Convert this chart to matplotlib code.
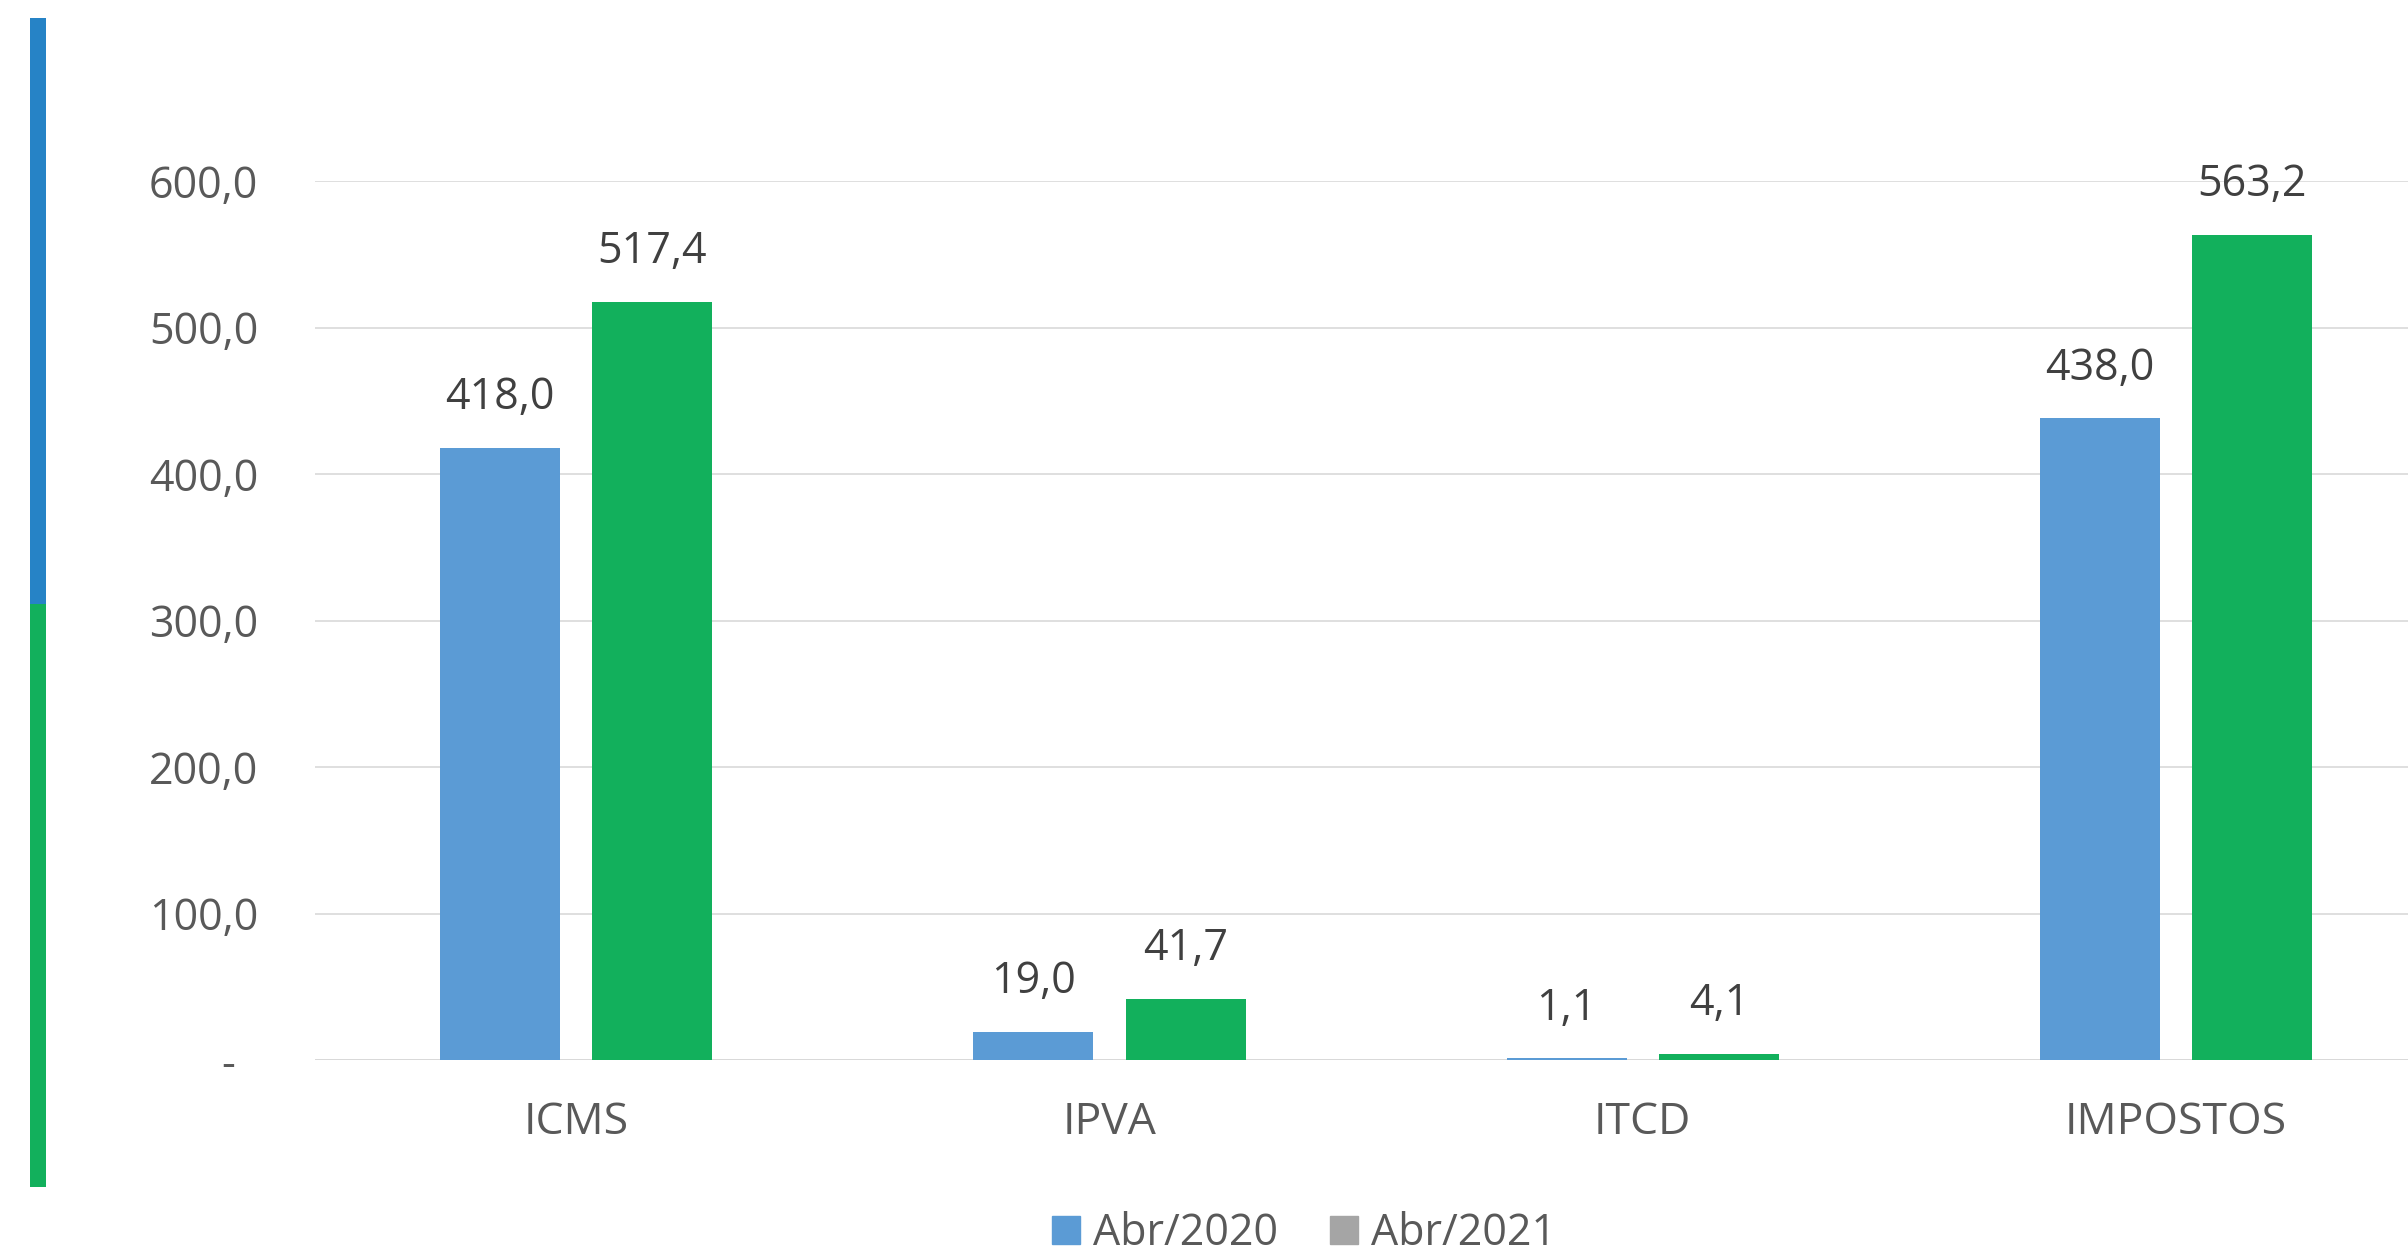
import numpy as np
import matplotlib.pyplot as plt
from matplotlib.patches import Rectangle, Patch

# values (R$ milhoes)
categorias = ["ICMS", "IPVA", "ITCD", "IMPOSTOS"]
abr_2020 = [418.0, 19.0, 1.1, 438.0]
abr_2021 = [517.4, 41.7, 4.1, 563.2]
legenda = ["Abr/2020", "Abr/2021"]
y_ticks = [0, 100, 200, 300, 400, 500, 600]

azul = "#5B9BD5"
verde = "#12B05C"
cinza = "#A5A5A5"

plt.rcParams['font.family'] = ['Open Sans', 'DejaVu Sans']


def fmt(v):
  return "{:.1f}".format(v).replace(".", ",")


fig = plt.figure(figsize=(24.08, 12.52), dpi=100)
ax = fig.add_axes([315 / 2408, (1252 - 1060) / 1252, (2408 - 315) / 2408, (1060 - 181) / 1252])

x = np.arange(len(categorias))
w = 0.225
off = 0.1427

b1 = ax.bar(x - off, abr_2020, w, color=azul, zorder=3)
b2 = ax.bar(x + off, abr_2021, w, color=verde, zorder=3)

for rects, vals in ((b1, abr_2020), (b2, abr_2021)):
  for r, v in zip(rects, vals):
    ax.annotate(fmt(v), (r.get_x() + r.get_width() / 2, v),
                xytext=(0, 36), textcoords='offset points',
                ha='center', va='center', fontsize=31, color='#404040',
                annotation_clip=False)

ax.set_xlim(-0.49, 3.435)
ax.set_ylim(0, 600)
ax.set_yticks(y_ticks)
ax.set_yticklabels([fmt(t) if t != 0 else "-  " for t in y_ticks])
ax.set_xticks(x)
ax.set_xticklabels(categorias)

ax.tick_params(axis='y', length=0, pad=41, labelsize=31, labelcolor='#595959')
ax.tick_params(axis='x', length=0, pad=29, labelsize=32, labelcolor='#595959')

ax.grid(axis='y', color='#D9D9D9', linewidth=1.2, zorder=0)
for s in ax.spines.values():
  s.set_visible(False)
ax.axhline(0, color='#D9D9D9', linewidth=1.4, zorder=2)

# legend (second entry shows gray as in the source)
handles = [Patch(color=azul), Patch(color=cinza)]
fig.legend(handles, legenda, loc='center', bbox_to_anchor=(0.5416, 0.0145),
           ncol=2, frameon=False, fontsize=31, labelcolor='#595959',
           handlelength=0.65, handleheight=0.65, handletextpad=0.3,
           columnspacing=1.2)

# decorative stripe on the left
fig.add_artist(Rectangle((30 / 2408, (1252 - 604) / 1252), 16 / 2408, (604 - 18) / 1252,
                         transform=fig.transFigure, color='#2683C6', lw=0))
fig.add_artist(Rectangle((30 / 2408, (1252 - 1187) / 1252), 16 / 2408, (1187 - 604) / 1252,
                         transform=fig.transFigure, color=verde, lw=0))

fig.savefig("out.png", dpi=100)
